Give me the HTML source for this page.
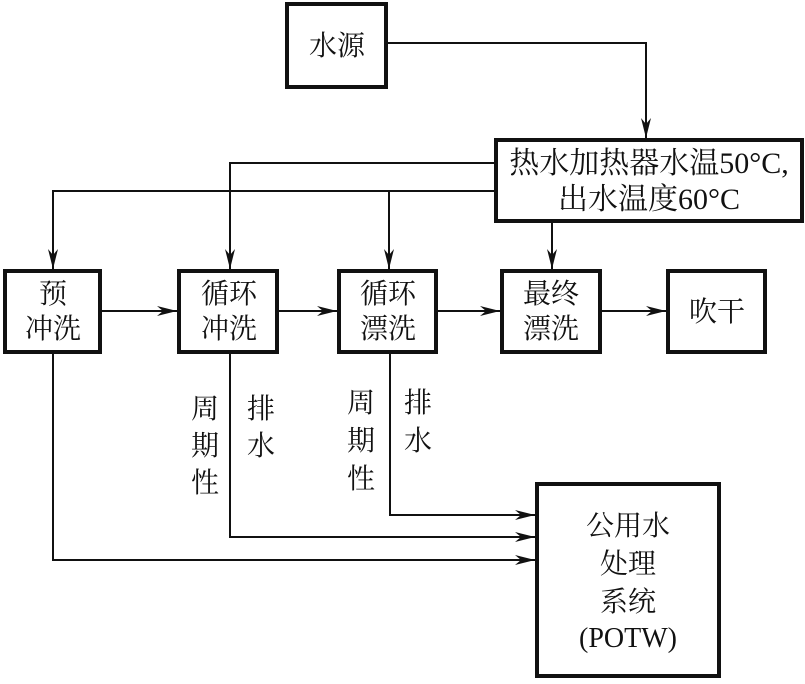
<!DOCTYPE html>
<html><head><meta charset="utf-8"><style>
body{margin:0;background:#fff;}
svg text{font-family:"Liberation Serif","Noto Serif CJK SC",serif;font-size:28px;fill:#111;}
svg text.h{font-size:30px;}
</style></head><body>
<svg width="805" height="679" viewBox="0 0 805 679" xmlns="http://www.w3.org/2000/svg">
<defs>
<marker id="a" viewBox="0 0 20 10" refX="20" refY="5" markerWidth="20" markerHeight="10" markerUnits="userSpaceOnUse" orient="auto">
<path d="M0,0 L20,5 L0,10 L6,5 Z" fill="#111"/></marker>
</defs>
<g fill="none" stroke="#111" stroke-width="4">
<rect x="287" y="4" width="99" height="83"/>
<rect x="496" y="140" width="306" height="81"/>
<rect x="5" y="271" width="95" height="81"/>
<rect x="179" y="271" width="98" height="81"/>
<rect x="339" y="271" width="97" height="81"/>
<rect x="502" y="271" width="98" height="81"/>
<rect x="668" y="271" width="97" height="81"/>
<rect x="537" y="484" width="182" height="192"/>
</g>
<g fill="none" stroke="#111" stroke-width="2">
<path d="M387 43 H646 V138" marker-end="url(#a)"/>
<path d="M494 163 H230 V269" marker-end="url(#a)"/>
<path d="M494 191 H53 V269" marker-end="url(#a)"/>
<path d="M389 191 V269" marker-end="url(#a)"/>
<path d="M552 222 V269" marker-end="url(#a)"/>
<path d="M101 311 H177" marker-end="url(#a)"/>
<path d="M278 311 H337" marker-end="url(#a)"/>
<path d="M437 311 H500" marker-end="url(#a)"/>
<path d="M601 311 H666" marker-end="url(#a)"/>
<path d="M390 353 V515 H535" marker-end="url(#a)"/>
<path d="M230 353 V537 H535" marker-end="url(#a)"/>
<path d="M53 353 V560 H535" marker-end="url(#a)"/>
</g>
<g text-anchor="middle">
<text x="337" y="55">水源</text>
<text class="h" x="649" y="173">热水加热器水温50°C,</text>
<text class="h" x="649" y="209">出水温度60°C</text>
<text x="53" y="303">预</text><text x="53" y="338">冲洗</text>
<text x="229" y="303">循环</text><text x="229" y="338">冲洗</text>
<text x="388" y="303">循环</text><text x="388" y="338">漂洗</text>
<text x="551" y="303">最终</text><text x="551" y="338">漂洗</text>
<text x="717" y="321">吹干</text>
<text x="205" y="418">周</text><text x="205" y="455">期</text><text x="205" y="492">性</text>
<text x="261" y="418">排</text><text x="261" y="455">水</text>
<text x="361" y="412">周</text><text x="361" y="450">期</text><text x="361" y="488">性</text>
<text x="418" y="412">排</text><text x="418" y="450">水</text>
<text x="628" y="535">公用水</text>
<text x="628" y="573">处理</text>
<text x="628" y="611">系统</text>
<text x="628" y="647">(POTW)</text>
</g>
</svg>
</body></html>
